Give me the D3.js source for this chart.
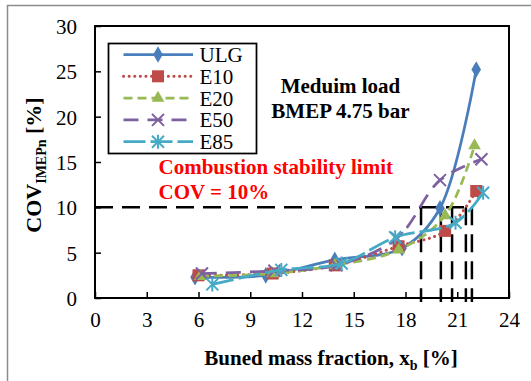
<!DOCTYPE html>
<html>
<head>
<meta charset="utf-8">
<script src="https://cdn.jsdelivr.net/npm/d3@7"></script>
<style>
  html, body { margin: 0; padding: 0; background: #fff; }
  svg { display: block; }
  text { font-family: "Liberation Serif", "Times New Roman", "DejaVu Serif", serif; }
</style>
</head>
<body>
<svg id="chart" width="531" height="381"></svg>
<script>
// Burned mass fraction (x) and COV of IMEP (y) for each fuel
const xULG = [5.8, 9.9, 13.9, 17.8, 20.0, 22.1];
const yULG = [2.3, 2.5, 4.2, 5.5, 9.9, 25.2];
const xE10 = [6.0, 10.3, 13.9, 17.6, 20.3, 22.1];
const yE10 = [2.5, 2.7, 3.6, 5.7, 7.4, 11.8];
const xE20 = [6.1, 10.3, 13.9, 17.6, 20.3, 22.0];
const yE20 = [2.4, 2.7, 3.6, 5.3, 9.1, 16.8];
const xE50 = [6.2, 10.4, 14.0, 17.5, 20.0, 22.4];
const yE50 = [2.7, 3.0, 3.6, 6.6, 13.0, 15.3];
const xE85 = [6.8, 10.8, 14.3, 17.4, 20.9, 22.5];
const yE85 = [1.5, 3.1, 3.8, 6.7, 8.3, 11.6];

const seriesNames = ["ULG", "E10", "E20", "E50", "E85"];
const xTicks = [0, 3, 6, 9, 12, 15, 18, 21, 24];
const yTicks = [0, 5, 10, 15, 20, 25, 30];

// Stability limit (COV = 10 %) and where each fuel reaches it
const covLimit = 10;
const limitCrossings = [18.9, 20.05, 20.7, 21.5, 21.85];

const seriesStyle = {
  ULG: { color: "#4A7EBB", dash: null, marker: "diamond" },
  E10: { color: "#BE4B48", dash: "0.1,5.5", marker: "square", cap: "round" },
  E20: { color: "#98B954", dash: "9,5", marker: "triangle" },
  E50: { color: "#7D60A0", dash: "15,9", marker: "cross" },
  E85: { color: "#46AAC5", dash: "22,5", marker: "asterisk" }
};

const seriesData = {
  ULG: xULG.map((x, i) => [x, yULG[i]]),
  E10: xE10.map((x, i) => [x, yE10[i]]),
  E20: xE20.map((x, i) => [x, yE20[i]]),
  E50: xE50.map((x, i) => [x, yE50[i]]),
  E85: xE85.map((x, i) => [x, yE85[i]])
};

const serif = "'Liberation Serif', 'Times New Roman', 'DejaVu Serif', serif";
const svg = d3.select("#chart");
const plot = { left: 95, right: 509, top: 26, bottom: 298 };

const x = d3.scaleLinear().domain([0, 24]).range([plot.left, plot.right]);
const y = d3.scaleLinear().domain([0, 30]).range([plot.bottom, plot.top]);

// Outer chart frame (only the top and left edges fall inside the page)
svg.append("path")
  .attr("d", "M7.5,400 L7.5,5.5 L540,5.5")
  .attr("fill", "none")
  .attr("stroke", "#8c8c8c")
  .attr("stroke-width", 1.5);

// Axes with inward ticks
const xAxis = svg.append("g").attr("transform", `translate(0,${plot.bottom})`)
  .call(d3.axisBottom(x).tickValues(xTicks).tickSizeInner(-6).tickSizeOuter(0).tickPadding(14));
const yAxis = svg.append("g").attr("transform", `translate(${plot.left},0)`)
  .call(d3.axisLeft(y).tickValues(yTicks).tickSizeInner(-6).tickSizeOuter(0).tickPadding(18));

[xAxis, yAxis].forEach(g => {
  g.select(".domain").remove();
  g.selectAll(".tick line").attr("stroke", "#000").attr("stroke-width", 1.5);
  g.selectAll(".tick text")
    .attr("fill", "#000")
    .style("font-family", serif)
    .style("font-size", "21px");
});
yAxis.selectAll(".tick text").attr("dy", "0.35em");
xAxis.selectAll(".tick text").attr("dy", "0.71em");

// Plot border
svg.append("rect")
  .attr("x", plot.left).attr("y", plot.top)
  .attr("width", plot.right - plot.left).attr("height", plot.bottom - plot.top)
  .attr("fill", "none").attr("stroke", "#000").attr("stroke-width", 2);

// Stability limit guide lines
const guide = svg.append("g")
  .attr("stroke", "#000").attr("stroke-width", 2.5)
  .attr("stroke-dasharray", "18,9").attr("fill", "none");
guide.append("line")
  .attr("x1", x(0)).attr("x2", x(d3.max(limitCrossings)))
  .attr("y1", y(covLimit)).attr("y2", y(covLimit));
guide.selectAll("line.v").data(limitCrossings).join("line")
  .attr("class", "v")
  .attr("x1", d => x(d)).attr("x2", d => x(d))
  .attr("y1", y(covLimit)).attr("y2", y(0) + 4);

// Marker drawing
function drawMarker(g, type, color) {
  if (type === "diamond") {
    g.append("path").attr("d", d3.symbol(d3.symbolDiamond, 80)()).attr("fill", color);
  } else if (type === "square") {
    g.append("rect").attr("x", -6).attr("y", -6).attr("width", 12).attr("height", 12).attr("fill", color);
  } else if (type === "triangle") {
    g.append("path").attr("d", d3.symbol(d3.symbolTriangle, 70)()).attr("fill", color);
  } else if (type === "cross") {
    g.append("path").attr("d", "M-6,-6L6,6M-6,6L6,-6")
      .attr("stroke", color).attr("stroke-width", 2).attr("fill", "none");
  } else if (type === "asterisk") {
    g.append("path").attr("d", "M-6,-6L6,6M-6,6L6,-6M0,-7L0,7")
      .attr("stroke", color).attr("stroke-width", 2).attr("fill", "none");
  }
}

const line = d3.line().x(d => x(d[0])).y(d => y(d[1])).curve(d3.curveCatmullRom.alpha(0.5));

seriesNames.forEach(name => {
  const st = seriesStyle[name];
  const g = svg.append("g");
  g.append("path")
    .datum(seriesData[name])
    .attr("d", line)
    .attr("fill", "none")
    .attr("stroke", st.color)
    .attr("stroke-width", name === "E10" ? 3 : 2.75)
    .attr("stroke-linecap", st.cap || "butt")
    .attr("stroke-dasharray", st.dash);
  g.selectAll("g.pt").data(seriesData[name]).join("g")
    .attr("class", "pt")
    .attr("transform", d => `translate(${x(d[0])},${y(d[1])})`)
    .each(function () { drawMarker(d3.select(this), st.marker, st.color); });
});

// Legend
const legend = svg.append("g");
legend.append("rect")
  .attr("x", 108.5).attr("y", 43.5).attr("width", 148).attr("height", 110)
  .attr("fill", "#fff").attr("stroke", "#000").attr("stroke-width", 1.75);
seriesNames.forEach((name, i) => {
  const st = seriesStyle[name];
  const cy = 54.5 + i * 21.8;
  legend.append("line")
    .attr("x1", 123.5).attr("x2", 193).attr("y1", cy).attr("y2", cy)
    .attr("stroke", st.color).attr("stroke-width", name === "E10" ? 3 : 2.75)
    .attr("stroke-linecap", st.cap || "butt")
    .attr("stroke-dasharray", st.dash);
  const m = legend.append("g").attr("transform", `translate(158,${cy})`);
  drawMarker(m, st.marker, st.color);
  legend.append("text")
    .attr("x", 199.5).attr("y", cy).attr("dy", "0.36em")
    .style("font-family", serif)
    .style("font-size", "21px").attr("fill", "#000")
    .text(name);
});

// Operating point note
const note = svg.append("g").attr("text-anchor", "middle")
  .style("font-family", serif)
  .style("font-size", "21px").style("font-weight", "bold").attr("fill", "#000");
note.append("text").attr("x", 340.5).attr("y", 93).text("Meduim load");
note.append("text").attr("x", 340.5).attr("y", 117.5).text("BMEP 4.75 bar");

// Stability limit label
const lim = svg.append("g")
  .style("font-family", serif)
  .style("font-size", "21px").style("font-weight", "bold").attr("fill", "#FF0000");
lim.append("text").attr("x", 158.5).attr("y", 173.5).text("Combustion stability limit");
lim.append("text").attr("x", 158.5).attr("y", 198.5).text("COV = 10%");

// Axis titles
const xt = svg.append("text")
  .attr("x", 331).attr("y", 365).attr("text-anchor", "middle")
  .style("font-family", serif)
  .style("font-size", "21px").style("font-weight", "bold").attr("fill", "#000");
xt.append("tspan").text("Buned mass fraction, x");
xt.append("tspan").attr("dy", 5).style("font-size", "14px").text("b");
xt.append("tspan").attr("dy", -5).text(" [%]");

const yt = svg.append("text")
  .attr("transform", "translate(41,165) rotate(-90)")
  .attr("text-anchor", "middle")
  .style("font-family", serif)
  .style("font-size", "22px").style("font-weight", "bold").attr("fill", "#000");
yt.append("tspan").text("COV");
yt.append("tspan").attr("dy", 5).style("font-size", "14px").text("IMEPn");
yt.append("tspan").attr("dy", -5).text(" [%]");
</script>
</body>
</html>
